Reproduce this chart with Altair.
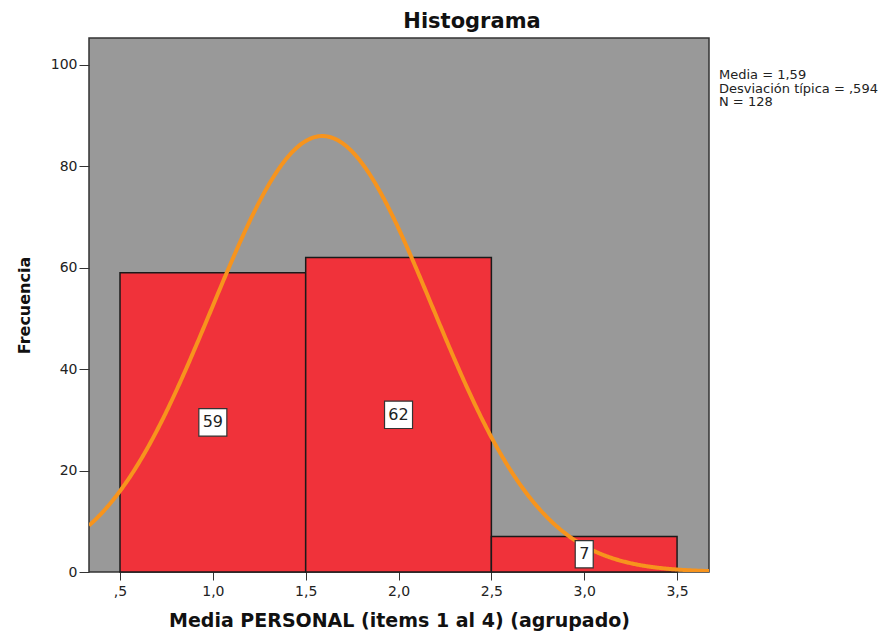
import altair as alt
import pandas as pd

bin_start = [0.5, 1.5, 2.5]
bin_end = [1.5, 2.5, 3.5]
counts = [59, 62, 7]
label_text = ["59", "62", "7"]
label_box_w = [28, 28, 18]

mean_val = 1.59
sd_val = 0.594
n_val = 128
stats_lines = ["Media = 1,59", "Desviación típica = ,594", "N = 128"]

x_ticks = [0.5, 1.0, 1.5, 2.0, 2.5, 3.0, 3.5]
y_ticks = [0, 20, 40, 60, 80, 100]
x_dom = [0.333, 3.672]
y_dom = [0, 105.3]

FONT = "DejaVu Sans"

bars_df = pd.DataFrame({"x0": bin_start, "x1": bin_end, "count": counts,
                        "lab": label_text, "bw": label_box_w})
bars_df["mid"] = (bars_df["x0"] + bars_df["x1"]) / 2
bars_df["half"] = bars_df["count"] / 2

xs = alt.Scale(domain=x_dom, nice=False, zero=False, padding=0)
ys = alt.Scale(domain=y_dom, nice=False, padding=0)

x_axis = alt.Axis(values=x_ticks, title="Media PERSONAL (items 1 al 4) (agrupado)",
                  labelExpr="replace(replace(format(datum.value, '.1f'), '.', ','), /^0/, '')",
                  grid=False, domain=False, tickSize=8, tickColor="#333333",
                  labelFontSize=14, labelColor="#222222", labelFont=FONT,
                  titleFont=FONT, titleFontSize=19, titleFontWeight="bold",
                  titleColor="#111111", titlePadding=13, labelPadding=4)
y_axis = alt.Axis(values=y_ticks, title="Frecuencia", grid=False, domain=False,
                  tickSize=10, tickColor="#333333", labelFontSize=14,
                  labelColor="#222222", labelFont=FONT, titleFont=FONT,
                  titleFontSize=16, titleFontWeight="bold", titleColor="#111111",
                  titlePadding=18, labelPadding=2)

base = alt.Chart(bars_df)

bars = base.mark_rect(color="#f0323a", stroke="#1a1a1a", strokeWidth=1.5).encode(
    x=alt.X("x0:Q", scale=xs, axis=x_axis),
    x2="x1:Q",
    y=alt.Y("count:Q", scale=ys, axis=y_axis),
    y2=alt.datum(0),
)

curve = alt.Chart(
    alt.sequence(start=x_dom[0], stop=x_dom[1] + 0.005, step=0.005, as_="xv")
).transform_calculate(
    yv=f"{n_val} * exp(-0.5 * pow((datum.xv - {mean_val}) / {sd_val}, 2)) / ({sd_val} * sqrt(2 * PI))"
).mark_line(color="#f7941d", strokeWidth=4, clip=True).encode(
    x=alt.X("xv:Q", scale=xs),
    y=alt.Y("yv:Q", scale=ys),
)

boxes = base.transform_calculate(
    b0="datum.half - 2.7", b1="datum.half + 2.7"
).mark_bar(color="white", stroke="#333333", strokeWidth=1.2).encode(
    x=alt.X("mid:Q", scale=xs),
    y=alt.Y("b0:Q", scale=ys),
    y2="b1:Q",
    size=alt.Size("bw:Q", scale=None, legend=None),
)

labels = base.mark_text(font=FONT, fontSize=16, color="#222222",
                        baseline="middle", align="center").encode(
    x=alt.X("mid:Q", scale=xs),
    y=alt.Y("half:Q", scale=ys),
    text="lab:N",
)

stats_df = pd.DataFrame({"t": stats_lines, "i": list(range(len(stats_lines)))})
stats = alt.Chart(stats_df).transform_calculate(
    py="37 + datum.i * 13.5"
).mark_text(font=FONT, fontSize=13, color="#222222", align="left",
            baseline="middle").encode(
    x=alt.value(630),
    y=alt.Y("py:Q", scale=None),
    text="t:N",
)

chart = alt.layer(bars, curve, boxes, labels, stats).properties(
    width=620, height=534,
    title=alt.TitleParams("Histograma", font=FONT, fontSize=21, fontWeight="bold",
                          color="#111111", offset=6, dx=73),
    padding={"left": 8, "top": 3, "right": 5, "bottom": 5},
    background="white",
).configure_view(
    fill="#999999", stroke="#333333", strokeWidth=1.5
)

chart.save("out.html", embed_options={"renderer": "svg", "actions": False})
